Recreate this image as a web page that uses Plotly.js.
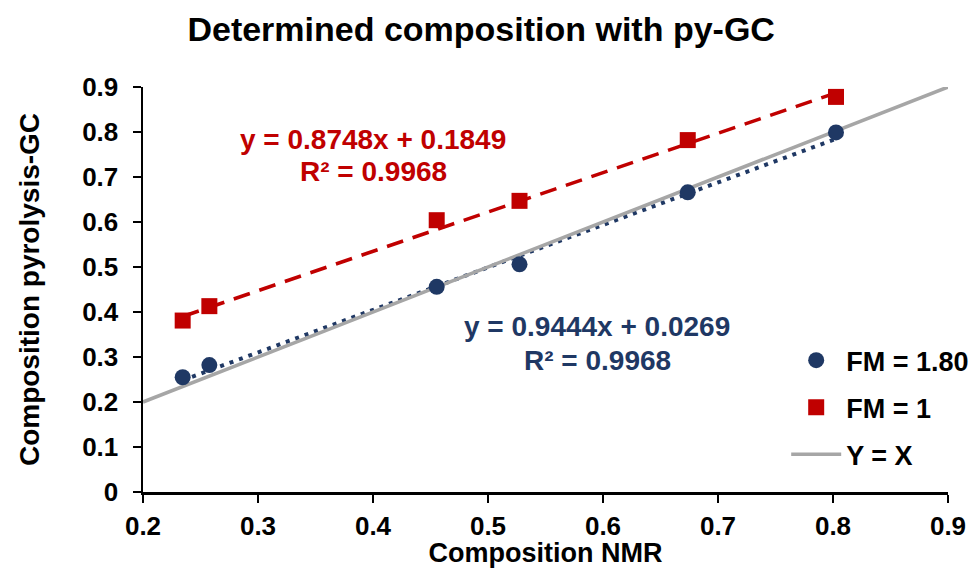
<!DOCTYPE html>
<html>
<head>
<meta charset="utf-8">
<script src="https://cdn.plot.ly/plotly-3.0.1.min.js"></script>
<style>html,body{margin:0;padding:0;background:#fff;}#chart{width:976px;height:568px;}</style>
</head>
<body>
<div id="chart"></div>
<script>
// Data
const nmrComposition = [0.2345, 0.2577, 0.4554, 0.5274, 0.6737, 0.8026];
const gcFM180 = [0.255, 0.282, 0.456, 0.506, 0.666, 0.799];
const gcFM1 = [0.381, 0.413, 0.604, 0.647, 0.782, 0.878];
const fitFM180 = {slope: 0.9444, intercept: 0.0269, r2: 0.9968};
const fitFM1 = {slope: 0.8748, intercept: 0.1849, r2: 0.9968};
const identityX = [0.2, 0.9];
const seriesNames = ["FM = 1.80", "FM = 1", "Y = X"];
const xTicks = [0.2, 0.3, 0.4, 0.5, 0.6, 0.7, 0.8, 0.9];
const yTicks = [0, 0.1, 0.2, 0.3, 0.4, 0.5, 0.6, 0.7, 0.8, 0.9];

const BLUE = "#1f3864", RED = "#c00000", GRAY = "#a6a6a6";
const FONT = "Liberation Sans, Arial, sans-serif";

const xMin = Math.min(...nmrComposition), xMax = Math.max(...nmrComposition);
const fitLine = f => ({x: [xMin, xMax], y: [xMin, xMax].map(v => f.slope * v + f.intercept)});
const lBlue = fitLine(fitFM180), lRed = fitLine(fitFM1);
const bold = s => "<b>" + s + "</b>";

const traces = [
  {x: lRed.x, y: lRed.y, mode: "lines", line: {color: RED, width: 3.5, dash: "17px,10px"}, showlegend: false, hoverinfo: "skip"},
  {x: lBlue.x, y: lBlue.y, mode: "lines", line: {color: BLUE, width: 4, dash: "4px,6px"}, showlegend: false, hoverinfo: "skip"},
  {x: identityX, y: identityX, mode: "lines", name: bold(seriesNames[2]), line: {color: GRAY, width: 3.5}, legendgroup: "c", legendrank: 3},
  {x: nmrComposition, y: gcFM180, mode: "markers", name: bold(seriesNames[0]), marker: {color: BLUE, size: 16, symbol: "circle"}, legendgroup: "a", legendrank: 1},
  {x: nmrComposition, y: gcFM1, mode: "markers", name: bold(seriesNames[1]), marker: {color: RED, size: 16, symbol: "square"}, legendgroup: "b", legendrank: 2}
];

const fmt = v => v.toFixed(4);
const annFont = c => ({size: 28, color: c, family: FONT});
const layout = {
  width: 976, height: 568,
  margin: {l: 143, r: 28, t: 87, b: 76, autoexpand: false},
  paper_bgcolor: "#fff", plot_bgcolor: "#fff",
  font: {family: FONT, size: 26, color: "#000"},
  title: {text: bold("Determined composition with py-GC"), x: 0.493, xanchor: "center", y: 0.948, yanchor: "middle", font: {size: 34, family: FONT, color: "#000"}},
  xaxis: {
    range: [0.2, 0.9], tickvals: xTicks, ticktext: xTicks.map(v => bold(v)),
    showline: true, linecolor: "#000", linewidth: 2.5,
    ticks: "outside", ticklen: 8, tickwidth: 2, tickcolor: "#000",
    ticklabelstandoff: 1, automargin: false,
    showgrid: false, zeroline: false,
    tickfont: {size: 26, family: FONT},
    title: {text: bold("Composition NMR"), font: {size: 27, family: FONT}, standoff: 3}
  },
  yaxis: {
    range: [0, 0.9], tickvals: yTicks, ticktext: yTicks.map(v => bold(v)),
    showline: true, linecolor: "#000", linewidth: 2.5,
    ticks: "outside", ticklen: 8, tickwidth: 2, tickcolor: "#000",
    ticklabelstandoff: 9, automargin: false,
    showgrid: false, zeroline: false,
    tickfont: {size: 26, family: FONT},
    title: {text: bold("Composition pyrolysis-GC"), font: {size: 28, family: FONT}, standoff: 35}
  },
  legend: {
    x: 0.799, y: 0.385, xanchor: "left", yanchor: "top",
    font: {size: 27, family: FONT},
    bgcolor: "rgba(0,0,0,0)", traceorder: "grouped", tracegroupgap: 9,
    itemwidth: 50
  },
  annotations: [
    {x: 0.4, y: 0.784, xref: "x", yref: "y", text: bold("y = " + fmt(fitFM1.slope) + "x + " + fmt(fitFM1.intercept)), showarrow: false, font: annFont(RED), xanchor: "center", yanchor: "middle"},
    {x: 0.4, y: 0.712, xref: "x", yref: "y", text: bold("R² = " + fmt(fitFM1.r2)), showarrow: false, font: annFont(RED), xanchor: "center", yanchor: "middle"},
    {x: 0.595, y: 0.367, xref: "x", yref: "y", text: bold("y = " + fmt(fitFM180.slope) + "x + " + fmt(fitFM180.intercept)), showarrow: false, font: annFont(BLUE), xanchor: "center", yanchor: "middle"},
    {x: 0.595, y: 0.293, xref: "x", yref: "y", text: bold("R² = " + fmt(fitFM180.r2)), showarrow: false, font: annFont(BLUE), xanchor: "center", yanchor: "middle"}
  ]
};

Plotly.newPlot("chart", traces, layout, {displayModeBar: false, staticPlot: true});
</script>
</body>
</html>
